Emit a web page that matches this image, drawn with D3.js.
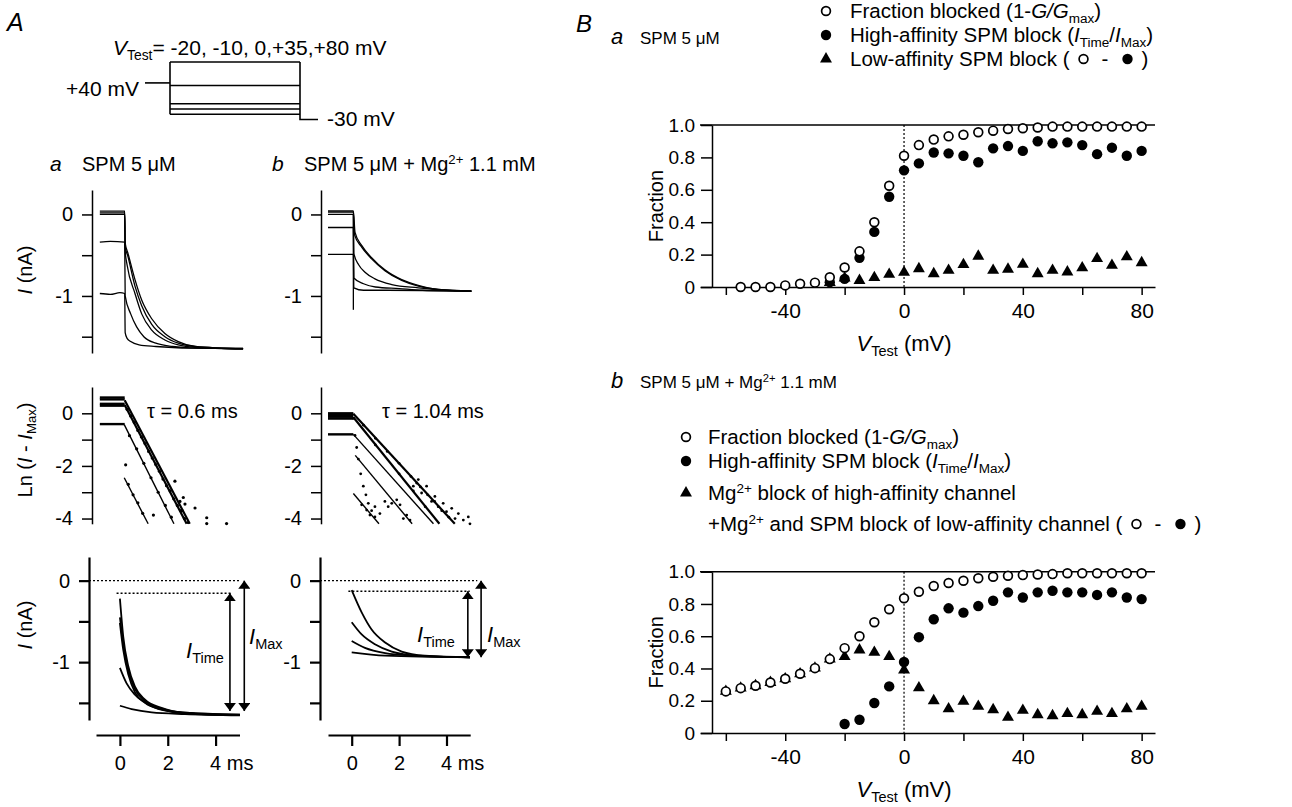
<!DOCTYPE html>
<html>
<head>
<meta charset="utf-8">
<script src="https://cdn.jsdelivr.net/npm/d3@7"></script>
<style>
  body { margin: 0; background: #fff; }
  text { font-family: "Liberation Sans", Arial, sans-serif; fill: #000; white-space: pre; }
</style>
</head>
<body>
<svg id="fig" width="1292" height="807"></svg>
<script>
// ---------- panel B values ----------
let voltsBa = [-55,-50,-45,-40,-35,-30,-25,-20,-15,-10,-5,0,5,10,15,20,25,30,35,40,45,50,55,60,65,70,75,80]
let blockedBa = [0,0,0,0.01,0.02,0.027,0.06,0.12,0.22,0.40,0.625,0.81,0.876,0.91,0.93,0.94,0.955,0.965,0.975,0.98,0.985,0.99,0.99,0.99,0.99,0.99,0.99,0.99]
let voltsBaHigh = [-25,-20,-15,-10,-5,0,5,10,15,20,25,30,35,40,45,50,55,60,65,70,75,80]
let highBa = [0.03,0.05,0.18,0.34,0.557,0.72,0.763,0.83,0.825,0.81,0.77,0.856,0.87,0.84,0.90,0.887,0.893,0.876,0.82,0.86,0.81,0.84]
let lowBa = [0.027,0.055,0.04,0.058,0.078,0.09,0.113,0.082,0.103,0.138,0.19,0.103,0.11,0.14,0.082,0.103,0.093,0.118,0.175,0.134,0.186,0.15]

let voltsBb = [-60,-55,-50,-45,-40,-35,-30,-25,-20,-15,-10,-5,0,5,10,15,20,25,30,35,40,45,50,55,60,65,70,75,80]
let blockedBb = [0.258,0.278,0.293,0.313,0.336,0.367,0.402,0.458,0.526,0.60,0.687,0.767,0.835,0.876,0.911,0.93,0.944,0.959,0.969,0.975,0.979,0.983,0.985,0.99,0.99,0.99,0.99,0.99,0.99]
let mgBb = [0.258,0.278,0.293,0.313,0.336,0.367,0.402,0.458,0.474,0.515,0.5,0.474,0.39,0.28,0.2,0.15,0.196,0.165,0.144,0.097,0.14,0.113,0.107,0.12,0.113,0.134,0.12,0.15,0.165]
let voltsBbHigh = [-20,-15,-10,-5,0,5,10,15,20,25,30,35,40,45,50,55,60,65,70,75,80]
let highBb = [0.056,0.082,0.186,0.289,0.44,0.594,0.705,0.773,0.746,0.787,0.82,0.872,0.84,0.872,0.882,0.872,0.872,0.856,0.872,0.84,0.83]

let xTicksB = [-60,-40,-20,0,20,40,60,80]
let xLabelsB = [-40,0,40,80]
let yTicksB = [0,0.2,0.4,0.6,0.8,1.0]

// ---------- panel A values ----------
let testVolts = [-20,-10,0,35,80]
let holdVolt = 40
let tailVolt = -30
let protoTimes = [-5,0,26,29.6]   // prepulse start, test start, test end, tail end

// current traces [ms, nA], one per test voltage
let tracesAaTop = [
  [[-0.84,-0.97],[-0.4,-0.98],[0,-0.96],[0.2,-0.97],[0.22,-1.45],[0.3,-1.52],[0.45,-1.56],[0.8,-1.6],[1.5,-1.62],[3.0,-1.64],[5.15,-1.645]],
  [[-0.84,-0.34],[-0.4,-0.33],[0.2,-0.34],[0.22,-1.0],[0.45,-1.22],[0.7,-1.38],[1.0,-1.5],[1.5,-1.58],[2.2,-1.62],[3.2,-1.64],[5.15,-1.645]],
  [[-0.84,0.0],[0.2,0.0],[0.22,-0.45],[0.3,-0.62],[0.63,-0.97],[0.91,-1.22],[1.33,-1.42],[1.88,-1.54],[2.44,-1.6],[3.14,-1.63],[5.15,-1.65]],
  [[-0.84,0.02],[0.2,0.02],[0.22,-0.4],[0.32,-0.5],[0.63,-0.88],[0.91,-1.12],[1.33,-1.35],[1.88,-1.5],[2.44,-1.58],[3.14,-1.62],[5.15,-1.65]],
  [[-0.84,0.04],[0.2,0.04],[0.22,-0.35],[0.34,-0.48],[0.63,-0.8],[0.91,-1.05],[1.33,-1.28],[1.88,-1.46],[2.44,-1.56],[3.14,-1.62],[5.15,-1.65]]
]
let tracesAbTop = [
  [[-1,-0.49],[0.07,-0.49],[0.09,-0.9],[0.5,-0.93],[1.5,-0.93],[5.05,-0.94]],
  [[-1,-0.16],[0.07,-0.16],[0.09,-0.78],[0.5,-0.85],[1.0,-0.89],[2.0,-0.91],[3.0,-0.93],[5.05,-0.94]],
  [[-1,0.0],[0.07,0.0],[0.09,-0.48],[0.3,-0.62],[0.56,-0.71],[0.98,-0.79],[1.69,-0.86],[2.81,-0.9],[4.0,-0.93],[5.05,-0.94]],
  [[-1,0.03],[0.07,0.03],[0.12,-0.25],[0.42,-0.4],[0.84,-0.545],[1.4,-0.69],[2.11,-0.81],[2.81,-0.88],[3.65,-0.92],[5.05,-0.94]],
  [[-1,0.045],[0.07,0.045],[0.14,-0.22],[0.42,-0.38],[0.84,-0.53],[1.4,-0.68],[2.11,-0.8],[2.81,-0.87],[3.65,-0.92],[5.05,-0.94]]
]
let spikeAb = [[0.07,0.0],[0.07,-1.17]]

// Ln(I - Imax): baseline levels, fitted lines and sampled points
let barsAaMid = [0.6,0.53,0.36,0.29,-0.41]
let fitsAaMid = [
  [[0.2,0.32],[2.79,-4.2]],
  [[0.2,0.5],[2.92,-4.2]],
  [[0.18,-0.43],[2.26,-4.2]],
  [[0.18,-2.45],[1.18,-4.2]]
]
let dotsAaMid = [
  [0.3,0.15],[0.45,-0.1],[0.6,-0.35],[0.75,-0.65],[0.9,-0.9],[1.05,-1.15],[1.2,-1.45],[1.35,-1.7],[1.5,-1.95],
  [1.65,-2.2],[1.8,-2.5],[1.95,-2.75],[2.1,-2.95],[2.25,-3.25],[2.4,-3.5],[2.55,-3.7],[2.7,-4.0],[2.85,-4.15],
  [0.4,-0.85],[0.7,-1.35],[1.0,-1.9],[1.3,-2.45],[1.6,-3.0],[1.9,-3.5],[2.15,-3.95],
  [0.35,-2.7],[0.55,-3.1],[0.75,-3.4],[0.95,-3.8],
  [0.24,-1.96],[1.4,-3.87],[2.51,-3.35],[2.72,-3.45],[3.14,-3.6],[3.63,-3.97],[3.63,-4.19],[4.46,-4.19],[2.3,-2.58],[2.6,-3.7],[2.65,-3.2]
]
let barsAbMid = [0.0,-0.06,-0.13,-0.2,-0.8]
let fitsAbMid = [
  [[0.07,-0.02],[4.35,-4.2]],
  [[0.07,-0.15],[3.7,-4.2]],
  [[0.07,-0.8],[3.45,-4.2]],
  [[0.15,-1.6],[2.55,-4.2]],
  [[0.07,-3.05],[1.15,-4.2]]
]
let dotsAbMid = [
  [0.07,-0.19],[0.14,-0.84],[0.21,-1.3],[0.28,-1.74],[0.38,-2.3],[0.49,-2.77],[0.6,-3.1],[0.7,-3.42],[0.84,-3.7],[0.98,-3.94],
  [0.5,-0.45],[1.0,-0.95],[1.5,-1.45],[2.0,-1.9],[2.5,-2.4],[2.9,-2.8],[3.2,-3.1],[3.5,-3.35],[3.8,-3.7],[4.1,-3.95],
  [1.0,-1.2],[2.0,-2.3],[2.6,-2.95],[3.1,-3.55],
  [0.42,-3.48],[0.63,-3.68],[0.77,-3.87],[0.98,-3.55],[1.19,-3.81],[1.4,-3.35],[1.54,-3.55],[1.69,-3.42],[1.9,-3.29],
  [2.04,-3.48],[2.18,-4.0],[2.32,-3.87],[2.46,-4.06],[2.6,-2.77],[2.74,-2.65],[2.81,-2.52],[2.95,-3.03],[3.16,-2.77],
  [3.37,-3.35],[3.51,-3.16],[3.65,-3.55],[3.86,-3.42],[4.0,-3.74],[4.22,-3.61],[4.36,-4.0],[4.5,-3.81],[4.71,-4.06],
  [4.92,-3.94],[4.99,-4.2]
]

// fitted exponentials of the tail currents [ms, nA]
let fitsAaBot = [
  [[0,-0.22],[0.14,-0.69],[0.35,-1.05],[0.63,-1.30],[1.05,-1.46],[1.74,-1.56],[2.72,-1.62],[5.02,-1.645]],
  [[0,-0.45],[0.14,-0.78],[0.35,-1.1],[0.63,-1.33],[1.05,-1.48],[1.74,-1.57],[2.72,-1.625],[5.02,-1.65]],
  [[0,-0.52],[0.14,-0.85],[0.35,-1.15],[0.63,-1.37],[1.05,-1.5],[1.74,-1.58],[2.72,-1.63],[5.02,-1.65]],
  [[0,-1.07],[0.28,-1.26],[0.63,-1.40],[1.19,-1.52],[2.02,-1.6],[5.02,-1.645]],
  [[0,-1.535],[0.49,-1.576],[1.33,-1.616],[2.72,-1.637],[5.02,-1.653]]
]
let fitsAbBot = [
  [[0,-0.117],[0.42,-0.39],[0.84,-0.6],[1.41,-0.76],[2.11,-0.87],[3.09,-0.92],[4.99,-0.94]],
  [[0,-0.51],[0.42,-0.66],[0.98,-0.78],[1.69,-0.87],[2.81,-0.92],[4.99,-0.94]],
  [[0,-0.74],[0.56,-0.825],[1.41,-0.89],[2.53,-0.92],[4.99,-0.94]],
  [[0,-0.88],[1.41,-0.92],[4.99,-0.94]]
]
let iTimeAa = -0.155, iMaxAa = -1.6
let iTimeAb = -0.13, iMaxAb = -0.94
let timeTicks = [0,2,4]

// ---------- helpers ----------
let svg = d3.select('#fig')

let richText = (parent, x, y, parts, size, anchor) => {
  let el = parent.append('text').attr('x', x).attr('y', y)
    .attr('font-size', size).attr('text-anchor', anchor || 'start')
  let cur = 0
  parts.forEach(p => {
    if (typeof p === 'string') p = {t: p}
    let off = p.sub ? size * 0.22 : p.sup ? -size * 0.36 : 0
    let ts = el.append('tspan').attr('dy', off - cur).text(p.t)
    if (p.sub || p.sup) ts.attr('font-size', size * 0.66)
    if (p.i) ts.attr('font-style', 'italic')
    cur = off
  })
  return el
}

let marker = (g, kind, x, y) => {
  if (kind === 'tri') {
    g.append('path').attr('d', d3.symbol(d3.symbolTriangle, 62)())
      .attr('transform', `translate(${x},${y})`).attr('fill', '#000')
  } else if (kind === 'open') {
    g.append('circle').attr('cx', x).attr('cy', y).attr('r', 4.4)
      .attr('fill', '#fff').attr('stroke', '#000').attr('stroke-width', 1.7)
  } else {
    g.append('circle').attr('cx', x).attr('cy', y).attr('r', 5.2).attr('fill', '#000')
  }
}

let styleAxis = (g, size, w) => {
  g.attr('font-size', size).attr('font-family', null)
  g.selectAll('path, line').attr('stroke', '#000').attr('stroke-width', w || 1.5)
  g.selectAll('text').attr('fill', '#000')
}

svg.append('defs').append('marker')
  .attr('id', 'arrow').attr('viewBox', '0 0 10 10')
  .attr('refX', 10).attr('refY', 5)
  .attr('markerWidth', 8).attr('markerHeight', 12)
  .attr('markerUnits', 'userSpaceOnUse')
  .attr('orient', 'auto-start-reverse')
  .attr('preserveAspectRatio', 'none')
  .append('path').attr('d', 'M0,0L10,5L0,10z').attr('fill', '#000')

// ================= panel B =================
let xB = d3.scaleLinear().domain([-68.7, 84.5]).range([700, 1155])

let drawB = (yRange, blocked, volts, high, voltsHigh, tri, voltsTri) => {
  let y = d3.scaleLinear().domain([0, 1]).range(yRange)
  let g = svg.append('g')

  // reference line at 1.0 and dotted line at 0 mV
  g.append('line').attr('x1', 700).attr('x2', 1155).attr('y1', y(1)).attr('y2', y(1))
    .attr('stroke', '#000').attr('stroke-width', 1.5)
  g.append('line').attr('x1', xB(0)).attr('x2', xB(0)).attr('y1', y(1)).attr('y2', y(0))
    .attr('stroke', '#000').attr('stroke-width', 1.2).attr('stroke-dasharray', '2,2')

  let ax = g.append('g').attr('transform', `translate(0,${y(0)})`)
    .call(d3.axisBottom(xB).tickValues(xTicksB).tickSize(8).tickSizeOuter(0).tickPadding(8)
      .tickFormat(d => xLabelsB.includes(d) ? `${d}` : ''))
  styleAxis(ax, 21)
  let ay = g.append('g').attr('transform', 'translate(712,0)')
    .call(d3.axisLeft(y).tickValues(yTicksB).tickSize(11).tickSizeOuter(0).tickPadding(6)
      .tickFormat(d => d === 0 ? '0' : d3.format('.1f')(d)))
  styleAxis(ay, 19)

  // markers: high-affinity, then triangles, then open circles on top
  voltsHigh.forEach((v, i) => marker(g, 'filled', xB(v), y(high[i])))
  voltsTri.forEach((v, i) => marker(g, 'tri', xB(v), y(tri[i])))
  volts.forEach((v, i) => marker(g, 'open', xB(v), y(blocked[i])))

  richText(g, xB(0), yRange[0] + 64, [{t: 'V', i: 1}, {t: 'Test', sub: 1}, ' (mV)'], 22, 'middle')
  g.append('text').attr('transform', `translate(663,${(yRange[0] + yRange[1]) / 2}) rotate(-90)`)
    .attr('text-anchor', 'middle').attr('font-size', 20).text('Fraction')
  return g
}

drawB([287, 125], blockedBa, voltsBa, highBa, voltsBaHigh, lowBa, voltsBaHigh)
drawB([733, 571.7], blockedBb, voltsBb, highBb, voltsBbHigh, mgBb, voltsBb)

// titles and legends of B
svg.append('text').attr('x', 576).attr('y', 32).attr('font-size', 24).attr('font-style', 'italic').text('B')
svg.append('text').attr('x', 611).attr('y', 44).attr('font-size', 22).attr('font-style', 'italic').text('a')
svg.append('text').attr('x', 640).attr('y', 44).attr('font-size', 17).text('SPM 5 μM')
svg.append('text').attr('x', 611).attr('y', 388).attr('font-size', 22).attr('font-style', 'italic').text('b')
richText(svg, 640, 388, ['SPM 5 μM + Mg', {t: '2+', sup: 1}, ' 1.1 mM'], 17)

let legSize = 20.5
let pairSymbols = (g, textEl, x, y) => {
  let w = textEl.node().getComputedTextLength()
  marker(g, 'open', x + w + 14, y - 7)
  g.append('text').attr('x', x + w + 32).attr('y', y).attr('font-size', legSize).text('-')
  marker(g, 'filled', x + w + 58, y - 7)
  g.append('text').attr('x', x + w + 72).attr('y', y).attr('font-size', legSize).text(')')
}

let legA = svg.append('g')
marker(legA, 'open', 826, 11)
richText(legA, 850, 18, ['Fraction blocked (1-', {t: 'G/G', i: 1}, {t: 'max', sub: 1}, ')'], legSize)
marker(legA, 'filled', 826, 35)
richText(legA, 850, 42, ['High-affinity SPM block (', {t: 'I', i: 1}, {t: 'Time', sub: 1}, '/', {t: 'I', i: 1}, {t: 'Max', sub: 1}, ')'], legSize)
marker(legA, 'tri', 826, 59)
let lowTxt = richText(legA, 850, 66, ['Low-affinity SPM block ('], legSize)
pairSymbols(legA, lowTxt, 850, 66)

let legB = svg.append('g')
marker(legB, 'open', 686, 437)
richText(legB, 708, 444, ['Fraction blocked (1-', {t: 'G/G', i: 1}, {t: 'max', sub: 1}, ')'], legSize)
marker(legB, 'filled', 686, 461)
richText(legB, 708, 468, ['High-affinity SPM block (', {t: 'I', i: 1}, {t: 'Time', sub: 1}, '/', {t: 'I', i: 1}, {t: 'Max', sub: 1}, ')'], legSize)
marker(legB, 'tri', 686, 493)
richText(legB, 708, 500, ['Mg', {t: '2+', sup: 1}, ' block of high-affinity channel'], legSize)
let lowTxtB = richText(legB, 708, 531, ['+Mg', {t: '2+', sup: 1}, ' and SPM block of low-affinity channel ('], legSize)
pairSymbols(legB, lowTxtB, 708, 531)

// ================= panel A =================
svg.append('text').attr('x', 7).attr('y', 31).attr('font-size', 25).attr('font-style', 'italic').text('A')

// voltage protocol
let xP = d3.scaleLinear().domain([protoTimes[0], protoTimes[3]]).range([145, 318])
let yP = d3.scaleLinear().domain([-30, 80]).range([119.5, 62])
let gP = svg.append('g').attr('fill', 'none').attr('stroke', '#000').attr('stroke-width', 1.6)
gP.append('path').attr('d', d3.line()([[xP(protoTimes[0]), yP(holdVolt)], [xP(protoTimes[1]), yP(holdVolt)]]))
gP.append('path').attr('d', d3.line()([[xP(protoTimes[1]), yP(d3.max(testVolts))], [xP(protoTimes[1]), yP(d3.min(testVolts))]]))
testVolts.forEach(v => gP.append('path')
  .attr('d', d3.line()([[xP(protoTimes[1]), yP(v)], [xP(protoTimes[2]), yP(v)]])))
gP.append('path').attr('d', d3.line()([[xP(protoTimes[2]), yP(d3.max(testVolts))], [xP(protoTimes[2]), yP(tailVolt)], [xP(protoTimes[3]), yP(tailVolt)]]))
richText(svg, 113, 55, [{t: 'V', i: 1}, {t: 'Test', sub: 1}, '= -20, -10, 0,+35,+80 mV'], 21)
svg.append('text').attr('x', 139).attr('y', 96).attr('font-size', 21).attr('text-anchor', 'end').text('+40 mV')
svg.append('text').attr('x', 327).attr('y', 126).attr('font-size', 21).text('-30 mV')

svg.append('text').attr('x', 50).attr('y', 171).attr('font-size', 21).attr('font-style', 'italic').text('a')
svg.append('text').attr('x', 82).attr('y', 171).attr('font-size', 20).text('SPM 5 μM')
svg.append('text').attr('x', 272).attr('y', 171).attr('font-size', 21).attr('font-style', 'italic').text('b')
richText(svg, 304, 171, ['SPM 5 μM + Mg', {t: '2+', sup: 1}, ' 1.1 mM'], 20)

// time scales of the two columns
let xAa = d3.scaleLinear().domain([-1, 5]).range([96, 239.5])
let xAb = d3.scaleLinear().domain([-1, 5]).range([328, 470.2])

let yTop = d3.scaleLinear().domain([0.3, -1.7]).range([190, 353])
let yMid = d3.scaleLinear().domain([1, -4.2]).range([387, 523.8])
let yBot = d3.scaleLinear().domain([0.29, -1.71]).range([557, 720])

let leftAxis = (x, scale, ticks, labels, w) => {
  let g = svg.append('g').attr('transform', `translate(${x},0)`)
    .call(d3.axisLeft(scale).tickValues(ticks).tickSize(10).tickSizeOuter(0).tickPadding(9)
      .tickFormat(d => labels.includes(d) ? `${d}` : ''))
  styleAxis(g, 20, w)
}
leftAxis(92, yTop, [0, -0.5, -1, -1.5], [0, -1])
leftAxis(321, yTop, [0, -0.5, -1, -1.5], [0, -1])
leftAxis(92, yMid, [0, -1, -2, -3, -4], [0, -2, -4])
leftAxis(321, yMid, [0, -1, -2, -3, -4], [0, -2, -4])
leftAxis(89, yBot, [0, -0.5, -1, -1.5], [0, -1], 2.2)
leftAxis(320, yBot, [0, -0.5, -1, -1.5], [0, -1], 2.2)

let yLabel = (cy, parts) => {
  let g = svg.append('g').attr('transform', `translate(32,${cy}) rotate(-90)`)
  richText(g, 0, 0, parts, 20, 'middle')
}
yLabel(270, [{t: 'I', i: 1}, ' (nA)'])
yLabel(450, ['Ln (', {t: 'I', i: 1}, ' - ', {t: 'I', i: 1}, {t: 'Max', sub: 1}, ')'])
yLabel(625, [{t: 'I', i: 1}, ' (nA)'])

let drawLines = (xs, ys, list, width, curve) => {
  let line = d3.line().x(d => xs(d[0])).y(d => ys(d[1])).curve(curve || d3.curveLinear)
  svg.append('g').selectAll('path').data(list).enter().append('path')
    .attr('d', line).attr('fill', 'none').attr('stroke', '#000')
    .attr('stroke-width', (d, i) => typeof width === 'function' ? width(i) : width)
}

// top: raw currents
drawLines(xAa, yTop, tracesAaTop, 1.3, d3.curveMonotoneX)
drawLines(xAb, yTop, tracesAbTop, 1.3, d3.curveMonotoneX)
drawLines(xAb, yTop, [spikeAb], 1.3)

// middle: log plots (first fits of each column form the heavy band)
drawLines(xAa, yMid, barsAaMid.map(v => [[-0.84, v], [0.2, v]]), 2.4)
drawLines(xAa, yMid, fitsAaMid, i => i < 2 ? 2.2 : 1.4)
drawLines(xAb, yMid, barsAbMid.map(v => [[-1, v], [0.07, v]]), 2.4)
drawLines(xAb, yMid, fitsAbMid, i => i < 2 ? 2.2 : 1.4)
svg.append('g').selectAll('circle').data(dotsAaMid).enter().append('circle')
  .attr('cx', d => xAa(d[0])).attr('cy', d => yMid(d[1])).attr('r', 1.6)
svg.append('g').selectAll('circle').data(dotsAbMid).enter().append('circle')
  .attr('cx', d => xAb(d[0])).attr('cy', d => yMid(d[1])).attr('r', 1.4)
svg.append('text').attr('x', 147).attr('y', 418).attr('font-size', 20).text('τ = 0.6 ms')
svg.append('text').attr('x', 382).attr('y', 418).attr('font-size', 20).text('τ = 1.04 ms')

// bottom: fitted exponentials with I_Time / I_Max
drawLines(xAa, yBot, fitsAaBot, 1.8, d3.curveMonotoneX)
drawLines(xAb, yBot, fitsAbBot, 1.8, d3.curveMonotoneX)

let refBars = (xs, axisX, iTime, iMax, tTime, tMax, tEnd) => {
  let dot = (x1, x2, v) => svg.append('line').attr('x1', x1).attr('x2', x2)
    .attr('y1', yBot(v)).attr('y2', yBot(v))
    .attr('stroke', '#000').attr('stroke-width', 1.3).attr('stroke-dasharray', '2,2')
  dot(axisX, xs(tEnd), 0)
  dot(xs(-0.14), xs(tTime + 0.08), iTime)
  let arrow = (t, v0) => svg.append('line').attr('x1', xs(t)).attr('x2', xs(t))
    .attr('y1', yBot(v0)).attr('y2', yBot(iMax))
    .attr('stroke', '#000').attr('stroke-width', 1.6)
    .attr('marker-start', 'url(#arrow)').attr('marker-end', 'url(#arrow)')
  arrow(tTime, iTime)
  arrow(tMax, 0)
}
refBars(xAa, 89, iTimeAa, iMaxAa, 4.6, 5.2, 5.0)
refBars(xAb, 320, iTimeAb, iMaxAb, 4.9, 5.46, 5.3)

richText(svg, 186, 658, [{t: 'I', i: 1}, {t: 'Time', sub: 1}], 22)
richText(svg, 249, 644, [{t: 'I', i: 1}, {t: 'Max', sub: 1}], 22)
richText(svg, 417, 642, [{t: 'I', i: 1}, {t: 'Time', sub: 1}], 22)
richText(svg, 487, 642, [{t: 'I', i: 1}, {t: 'Max', sub: 1}], 22)

// time axes
let timeAxis = (xs, y) => {
  let g = svg.append('g').attr('transform', `translate(0,${y})`)
    .call(d3.axisBottom(xs).tickValues(timeTicks).tickSize(11).tickSizeOuter(0).tickPadding(10)
      .tickFormat(d => `${d}`))
  styleAxis(g, 20, 2.2)
  g.selectAll('.tick text').filter(d => d === 4).text('4 ms').attr('text-anchor', 'start').attr('dx', -6)
}
timeAxis(xAa, 735)
timeAxis(xAb, 735)
</script>
</body>
</html>
